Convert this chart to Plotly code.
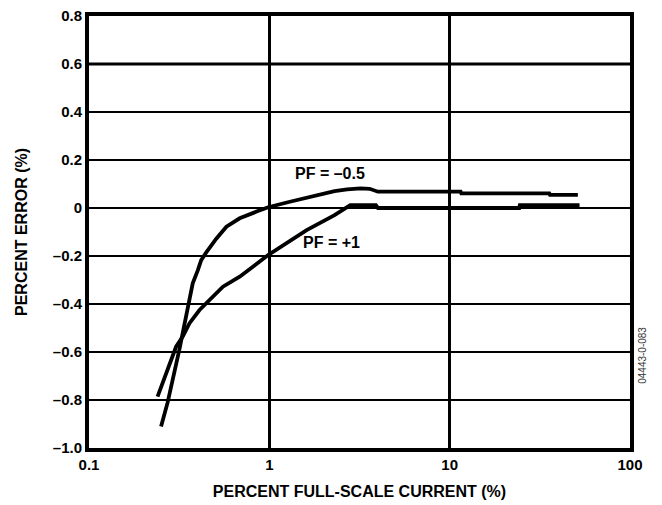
import plotly.graph_objects as go

# Percent error vs. percent full-scale current, two power factors
pf_neg05_current = [0.251, 0.273, 0.317, 0.361, 0.376, 0.401, 0.419, 0.447, 0.508, 0.578, 0.685, 0.85,
                    0.985, 1.3, 1.83, 2.3, 2.7, 3.2, 3.6, 4.0, 11.5, 11.6, 35.7, 36.0, 51.4]
pf_neg05_error = [-0.91, -0.81, -0.59, -0.38, -0.314, -0.26, -0.217, -0.185, -0.128, -0.078, -0.043, -0.015,
                  0.003, 0.026, 0.054, 0.070, 0.078, 0.082, 0.080, 0.068, 0.068, 0.061, 0.061, 0.055, 0.055]

pf_pos1_current = [0.240, 0.27, 0.304, 0.331, 0.361, 0.41, 0.467, 0.553, 0.685, 0.985, 1.61, 2.3, 2.81,
                   3.9, 4.0, 24.3, 24.5, 52.5]
pf_pos1_error = [-0.786, -0.68, -0.578, -0.536, -0.48, -0.425, -0.383, -0.328, -0.286, -0.196, -0.092, -0.03, 0.012,
                 0.012, 0.0, 0.0, 0.012, 0.012]

x_tick_vals = [0.1, 1, 10, 100]
x_tick_text = ["0.1", "1", "10", "100"]
y_tick_vals = [0.8, 0.6, 0.4, 0.2, 0, -0.2, -0.4, -0.6, -0.8, -1.0]
y_tick_text = ["0.8", "0.6", "0.4", "0.2", "0", "–0.2", "–0.4", "–0.6", "–0.8", "–1.0"]

FONT = "Liberation Sans, Arial, sans-serif"

fig = go.Figure()
line_style = dict(color="black", width=3.8)
fig.add_trace(go.Scatter(x=pf_neg05_current, y=pf_neg05_error, mode="lines",
                         line=line_style, name="PF = –0.5", showlegend=False))
fig.add_trace(go.Scatter(x=pf_pos1_current, y=pf_pos1_error, mode="lines",
                         line=line_style, name="PF = +1", showlegend=False))

# heavier grid line at 0.6
fig.add_shape(type="line", xref="paper", x0=0, x1=1, yref="y", y0=0.6, y1=0.6,
              line=dict(color="black", width=3), layer="below")

fig.add_annotation(x=0.337, y=0.142, xref="x", yref="y", text="<b>PF = –0.5</b>",
                   showarrow=False, font=dict(family=FONT, size=16, color="black"))
fig.add_annotation(x=0.342, y=-0.142, xref="x", yref="y", text="<b>PF = +1</b>",
                   showarrow=False, font=dict(family=FONT, size=16, color="black"))
fig.add_annotation(x=1.0, y=0.144, xref="paper", yref="paper", xshift=20,
                   text="04443-0-083", textangle=-90, showarrow=False,
                   font=dict(family=FONT, size=10, color="#333", weight="normal"))

fig.update_layout(
    width=662, height=505,
    margin=dict(l=89, r=32, t=16, b=57),
    paper_bgcolor="white", plot_bgcolor="white",
    font=dict(family=FONT, size=15, color="black", weight="bold"),
    xaxis=dict(type="log", range=[-1, 2], tickvals=x_tick_vals, ticktext=x_tick_text,
               showgrid=True, gridcolor="black", gridwidth=3, automargin=False,
               showline=True, linecolor="black", linewidth=4, mirror=True,
               ticks="", zeroline=False, tickfont=dict(size=15),
               title=dict(text="PERCENT FULL-SCALE CURRENT (%)", standoff=15,
                          font=dict(family=FONT, size=16, weight="bold"))),
    yaxis=dict(range=[-1.0, 0.8], tickvals=y_tick_vals, ticktext=y_tick_text,
               showgrid=True, gridcolor="black", gridwidth=1.5, automargin=False,
               showline=True, linecolor="black", linewidth=4, mirror=True,
               ticks="", zeroline=False, tickfont=dict(size=15),
               title=dict(text="PERCENT ERROR (%)", standoff=22,
                          font=dict(family=FONT, size=16, weight="bold"))),
)

fig.write_html("out.html")
